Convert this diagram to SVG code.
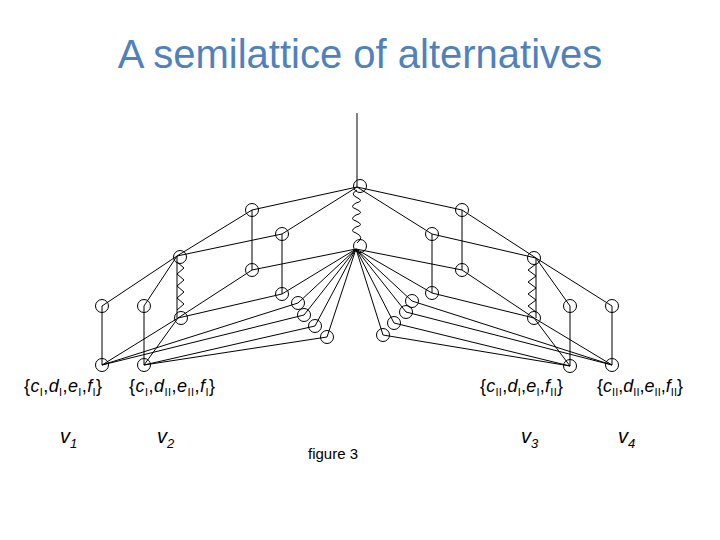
<svg xmlns="http://www.w3.org/2000/svg" width="720" height="540" viewBox="0 0 720 540">
<style>
.e{stroke:#000;stroke-width:1;fill:none}
.z{stroke:#000;stroke-width:1;fill:none;stroke-linejoin:round}
.n{stroke:#000;stroke-width:1;fill:none}
.t{font-family:"Liberation Sans",Arial,sans-serif;fill:#000}
.it{font-style:italic}
.sb{font-size:11px}
</style>
<rect width="720" height="540" fill="#fff"/>
<text x="360" y="68" text-anchor="middle" font-family="Liberation Sans, Arial, sans-serif" font-size="40" fill="#4F81BD">A semilattice of alternatives</text>
<g id="connectors">
<line class="e" x1="357" y1="113" x2="357" y2="187"/>
<line class="e" x1="357" y1="187" x2="252" y2="210"/>
<line class="e" x1="357" y1="187" x2="282" y2="234"/>
<line class="e" x1="357" y1="187" x2="462" y2="210"/>
<line class="e" x1="357" y1="187" x2="432" y2="234"/>
<line class="e" x1="252" y1="210" x2="177" y2="256"/>
<line class="e" x1="282" y1="234" x2="177" y2="256"/>
<line class="e" x1="252" y1="210" x2="252" y2="270"/>
<line class="e" x1="282" y1="234" x2="282" y2="294"/>
<line class="e" x1="356" y1="249" x2="252" y2="270"/>
<line class="e" x1="356" y1="249" x2="282" y2="294"/>
<line class="e" x1="252" y1="270" x2="178" y2="318"/>
<line class="e" x1="282" y1="294" x2="178" y2="318"/>
<line class="e" x1="177" y1="256" x2="102" y2="306"/>
<line class="e" x1="177" y1="256" x2="144" y2="306"/>
<line class="e" x1="102" y1="306" x2="102" y2="365"/>
<line class="e" x1="144" y1="306" x2="144" y2="365"/>
<line class="e" x1="177" y1="256" x2="177" y2="318"/>
<line class="e" x1="178" y1="318" x2="102" y2="365"/>
<line class="e" x1="178" y1="318" x2="144" y2="365"/>
<line class="e" x1="356" y1="249" x2="298" y2="303"/>
<line class="e" x1="356" y1="249" x2="304" y2="315"/>
<line class="e" x1="356" y1="249" x2="315" y2="326"/>
<line class="e" x1="356" y1="249" x2="327" y2="337"/>
<line class="e" x1="298" y1="303" x2="102" y2="365"/>
<line class="e" x1="304" y1="315" x2="102" y2="365"/>
<line class="e" x1="315" y1="326" x2="144" y2="365"/>
<line class="e" x1="327" y1="337" x2="144" y2="365"/>
<line class="e" x1="462" y1="210" x2="536" y2="258"/>
<line class="e" x1="432" y1="234" x2="536" y2="258"/>
<line class="e" x1="462" y1="210" x2="462" y2="270"/>
<line class="e" x1="432" y1="234" x2="432" y2="293"/>
<line class="e" x1="356" y1="249" x2="462" y2="270"/>
<line class="e" x1="356" y1="249" x2="432" y2="293"/>
<line class="e" x1="462" y1="270" x2="534" y2="318"/>
<line class="e" x1="432" y1="293" x2="534" y2="318"/>
<line class="e" x1="536" y1="258" x2="570" y2="306"/>
<line class="e" x1="536" y1="258" x2="612" y2="306"/>
<line class="e" x1="536" y1="258" x2="536" y2="318"/>
<line class="e" x1="570" y1="306" x2="570" y2="366"/>
<line class="e" x1="612" y1="306" x2="612" y2="365"/>
<line class="e" x1="534" y1="318" x2="570" y2="366"/>
<line class="e" x1="534" y1="318" x2="612" y2="365"/>
<line class="e" x1="356" y1="249" x2="412" y2="301"/>
<line class="e" x1="356" y1="249" x2="406" y2="312"/>
<line class="e" x1="356" y1="249" x2="394" y2="323"/>
<line class="e" x1="356" y1="249" x2="383" y2="335"/>
<line class="e" x1="412" y1="301" x2="612" y2="365"/>
<line class="e" x1="406" y1="312" x2="612" y2="365"/>
<line class="e" x1="394" y1="323" x2="570" y2="366"/>
<line class="e" x1="383" y1="335" x2="570" y2="366"/>
<path class="z" d="M357,190 Q350,194 356,197 Q365,201 356,203 Q349,207 356,209 Q365,213 356,215 Q349,219 356,221 Q365,225 356,227 Q349,231 356,233 Q365,237 357,243"/>
<path class="z" d="M177,262 L184,268 L177,274 L184,280 L177,286 L184,292 L177,298 L184,304 L177,310"/>
<path class="z" d="M536,264 L528,270 L536,276 L528,282 L536,288 L528,294 L536,300 L528,306 L536,312"/>
</g>
<g id="T"><circle class="n" cx="360" cy="186" r="6.5"/></g>
<g id="H"><circle class="n" cx="360" cy="246" r="6.5"/></g>
<g id="A1"><circle class="n" cx="252" cy="210" r="6.5"/></g>
<g id="A2"><circle class="n" cx="282" cy="234" r="6.5"/></g>
<g id="A3"><circle class="n" cx="252" cy="270" r="6.5"/></g>
<g id="A4"><circle class="n" cx="282" cy="294" r="6.5"/></g>
<g id="Btop"><circle class="n" cx="180" cy="257" r="6.5"/></g>
<g id="Bbottom"><circle class="n" cx="181" cy="318" r="6.5"/></g>
<g id="L1"><circle class="n" cx="102" cy="306" r="6.5"/></g>
<g id="L2"><circle class="n" cx="144" cy="306" r="6.5"/></g>
<g id="V1"><circle class="n" cx="102" cy="365" r="6.5"/></g>
<g id="V2"><circle class="n" cx="144" cy="365" r="6.5"/></g>
<g id="F1"><circle class="n" cx="298" cy="303" r="6.5"/></g>
<g id="F2"><circle class="n" cx="304" cy="315" r="6.5"/></g>
<g id="F3"><circle class="n" cx="315" cy="326" r="6.5"/></g>
<g id="F4"><circle class="n" cx="327" cy="337" r="6.5"/></g>
<g id="C1"><circle class="n" cx="462" cy="210" r="6.5"/></g>
<g id="C2"><circle class="n" cx="432" cy="234" r="6.5"/></g>
<g id="C3"><circle class="n" cx="462" cy="270" r="6.5"/></g>
<g id="C4"><circle class="n" cx="432" cy="293" r="6.5"/></g>
<g id="Dtop"><circle class="n" cx="534" cy="258" r="6.5"/></g>
<g id="Dbottom"><circle class="n" cx="534" cy="318" r="6.5"/></g>
<g id="R1"><circle class="n" cx="570" cy="306" r="6.5"/></g>
<g id="R2"><circle class="n" cx="612" cy="306" r="6.5"/></g>
<g id="V3"><circle class="n" cx="570" cy="366" r="6.5"/></g>
<g id="V4"><circle class="n" cx="612" cy="365" r="6.5"/></g>
<g id="G1"><circle class="n" cx="412" cy="301" r="6.5"/></g>
<g id="G2"><circle class="n" cx="406" cy="312" r="6.5"/></g>
<g id="G3"><circle class="n" cx="394" cy="323" r="6.5"/></g>
<g id="G4"><circle class="n" cx="383" cy="335" r="6.5"/></g>
<g id="labels" class="t" font-size="18">
<text x="24" y="392" textLength="78" lengthAdjust="spacing">{<tspan class="it">c</tspan><tspan class="sb" baseline-shift="-4">I</tspan>,<tspan class="it">d</tspan><tspan class="sb" baseline-shift="-4">I</tspan>,<tspan class="it">e</tspan><tspan class="sb" baseline-shift="-4">I</tspan>,<tspan class="it">f</tspan><tspan class="sb" baseline-shift="-4">I</tspan>}</text>
<text x="129" y="392" textLength="86" lengthAdjust="spacing">{<tspan class="it">c</tspan><tspan class="sb" baseline-shift="-4">I</tspan>,<tspan class="it">d</tspan><tspan class="sb" baseline-shift="-4">II</tspan>,<tspan class="it">e</tspan><tspan class="sb" baseline-shift="-4">II</tspan>,<tspan class="it">f</tspan><tspan class="sb" baseline-shift="-4">I</tspan>}</text>
<text x="480" y="392" textLength="83" lengthAdjust="spacing">{<tspan class="it">c</tspan><tspan class="sb" baseline-shift="-4">II</tspan>,<tspan class="it">d</tspan><tspan class="sb" baseline-shift="-4">I</tspan>,<tspan class="it">e</tspan><tspan class="sb" baseline-shift="-4">I</tspan>,<tspan class="it">f</tspan><tspan class="sb" baseline-shift="-4">II</tspan>}</text>
<text x="597" y="392" textLength="86" lengthAdjust="spacing">{<tspan class="it">c</tspan><tspan class="sb" baseline-shift="-4">II</tspan>,<tspan class="it">d</tspan><tspan class="sb" baseline-shift="-4">II</tspan>,<tspan class="it">e</tspan><tspan class="sb" baseline-shift="-4">II</tspan>,<tspan class="it">f</tspan><tspan class="sb" baseline-shift="-4">II</tspan>}</text>
<text x="60" y="443" font-size="20"><tspan class="it">v</tspan><tspan font-size="13" class="it" baseline-shift="-5">1</tspan></text>
<text x="157" y="443" font-size="20"><tspan class="it">v</tspan><tspan font-size="13" class="it" baseline-shift="-5">2</tspan></text>
<text x="521" y="443" font-size="20"><tspan class="it">v</tspan><tspan font-size="13" class="it" baseline-shift="-5">3</tspan></text>
<text x="618" y="443" font-size="20"><tspan class="it">v</tspan><tspan font-size="13" class="it" baseline-shift="-5">4</tspan></text>
<text x="308" y="459" font-size="15">figure 3</text>
</g>
</svg>
